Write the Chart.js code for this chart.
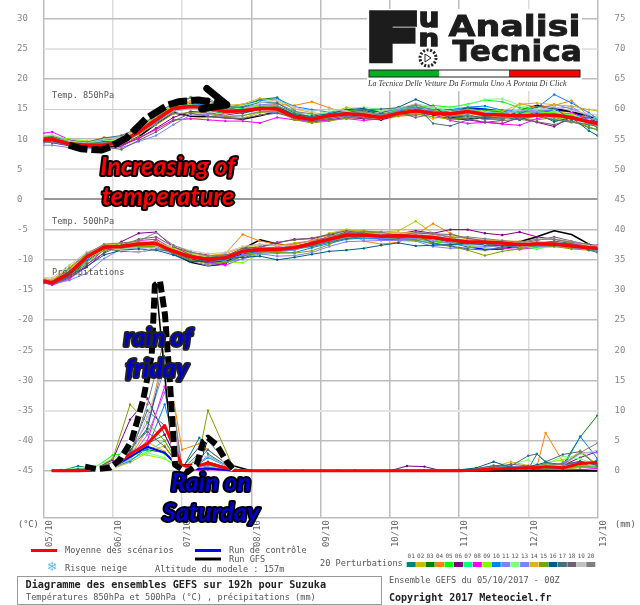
<!DOCTYPE html>
<html><head><meta charset="utf-8">
<style>html,body{margin:0;padding:0;background:#fff}#w{position:relative;width:640px;height:605px}</style>
<script src="https://cdn.jsdelivr.net/npm/chart.js@4"></script>
</head><body><div id="w"><canvas id="c" width="640" height="605"></canvas></div>
<script>
const dateLabels=['05/10','06/10','07/10','08/10','09/10','10/10','11/10','12/10','13/10'];
const hours=[0,3,9,15,21,27,33,39,45,51,57,63,69,75,81,87,93,99,105,111,117,123,129,135,141,147,153,159,165,171,177,183,189,192];
const precipHours=[3,6,12,18,24,30,36,42,48,54,57,66,72,78,84,90,96,102,108,114,120,126,132,138,144,150,156,162,168,171,174,180,186,192];
const gfsPrecipHours=[3,6,12,18,24,30,36,39,45,54,57,66,72,78,84,90,96,102,108,114,120,126,132,138,144,150,156,162,168,171,174,180,186,192];
const memberColors=['#008080','#c0c000','#008000','#ff8000','#00ff00','#800080','#00ff80','#ff00ff','#80ff00','#0080ff','#8080ff','#80ff80','#8080ff','#e0b020','#80a000','#005f80','#406f80','#705f70','#c0c0c0','#808080'];
const mean850=[10,10,9.2,9,9,9.6,11.2,13.2,15.1,15.4,15.2,14.6,14.7,15.1,15,13.7,13.3,13.9,14.2,14,13.6,14.3,14.7,14.3,14.2,14.6,14.1,14,13.9,14,14,13.6,12.9,12.6];
const control850=[9.9,10,9.3,9,9,9.5,11.4,13.6,15.3,15.7,15,14.7,14.8,15.3,15.5,14,13.4,14,14.5,14.5,14,14.7,15,14.8,14.4,15.2,15,14.6,14.4,14.5,14.8,14.6,13.3,12.8];
const gfs850=[9.8,9.7,9,8.8,8.6,8.9,10.4,12.5,14.4,13.8,13.7,13.6,13.3,13.9,14.6,14,13.2,13.8,14.4,14.7,14.1,14.5,14.8,14.6,13.6,13.4,13.5,13.2,14.8,15.6,15.1,14.6,13.8,13.2];
const members850=[
[10.2,10.3,9.4,9,9.2,9.8,11.5,13.6,15.3,15.5,14.8,14.2,14.5,15.2,15.4,14.1,13.2,13.6,14.6,14.7,13.9,14.7,15.3,14.6,13.7,14.4,15,14.4,13.2,14.7,15.2,13.1,11.9,11.6],
[9.7,9.9,9,8.8,8.9,9.2,10.3,11.6,13.1,13.4,13.6,13.7,13.5,14.4,14.6,13.5,12.9,13.6,14,14.2,14.3,14.9,15.8,15,13.9,13.7,13.6,13.3,14,13.9,14.6,14.2,13.5,13.1],
[10.1,9.9,9.3,9.2,9.1,9.4,11,12.9,15.2,15.9,15.1,14.9,15.4,16.6,16.9,14.8,13,13.8,14.7,15,14.2,14.4,14.9,14.4,14.7,15.1,14.8,14.3,13.4,13.8,13.2,12.8,12.4,12.2],
[9.8,10.1,9.5,9.4,10.3,10.2,11.4,13.4,15.4,16.2,15.5,15,14.9,15.5,15.8,15.6,16.2,15.2,14.3,13.6,13.2,13.8,14,15.5,13.9,14.3,13.8,13.5,15.9,15.3,15.6,16.4,13.8,12],
[10.3,10.5,9.6,9.3,9.8,9.9,11.8,14,15.6,15.3,14.9,14.3,14.6,15.4,15.5,14.4,13.6,14.2,14.8,15,14.6,14.9,15.2,15.6,15.3,15.8,16.5,16.2,15.2,15,13.6,13.4,13,12.9],
[9.6,9.4,8.9,8.7,8.8,9,10.1,11.8,13.6,14.6,14.4,14,14.4,15,14.9,13.4,12.9,13.2,13.6,13.4,13.2,14,14.5,14,13.4,13.2,12.8,12.6,13.6,12.8,12.1,13.7,13.1,12.9],
[10,10.2,9.7,9.6,9.3,9.7,11.3,13.3,15,15.2,15.3,14.8,15.1,15.5,15.6,14.2,13.7,14.4,14.5,14.6,14.1,14.6,14.8,14.5,14.9,14.8,14.3,14.5,14.4,14.5,14.4,13.9,13.4,13.2],
[11,11.2,9.9,9.1,9.2,8.9,10.2,11.6,13.2,13.4,13.2,13,13,12.7,13.6,13.2,12.9,13.2,13.4,13.1,13.4,14.2,14,14.3,13.1,12.6,12.8,12.5,12.3,13.4,13.9,14.4,13.2,12.7],
[10.4,10.6,10,9.7,9.5,10,11.7,13.9,15.8,15.6,15,14.4,14.8,15.6,15.2,13.9,13.4,14,14.6,14.4,13.8,14.5,15,14.8,14.3,14.9,14.6,14.8,14.2,14.6,14.3,14.1,12.6,12.2],
[9.5,9.6,9.2,9.5,9.9,10,11.1,12.8,14.9,15.6,15.9,15.3,15.7,16.4,16.7,15.4,14.9,14.5,14.9,15,14.4,15.1,15.4,15,14.9,15.3,15.5,14.8,14.6,15.2,17.4,16,14.4,13.4],
[9,9,8.6,8.4,8.5,8.6,9.6,10.6,12.4,14,14.1,13.7,13.9,14.6,14.4,13.5,13,13.4,13.8,13.7,13.4,14.1,14.6,14.5,13.7,14.1,13.4,13.2,14.9,14.7,15.8,15,13.9,13.6],
[10.2,10.1,9.4,9.2,9.7,10.1,12,14.3,15.9,15.7,15.4,15.2,15.6,16.2,16.1,14.5,14,14.6,15.1,15.3,14.9,15.2,15.5,15.1,15.2,15.7,16.6,16.7,15.6,15,14.8,13.5,13.2,13.6],
[9.9,10.3,9.1,8.9,9,9.3,10.8,12.6,14.6,15.1,15.6,15.2,15.3,15.7,15.9,14.7,13.5,14.3,14.4,14.3,13.9,14.8,15.1,14.6,14.5,14.9,14.4,14.2,14.7,14.4,15,15.4,13.6,13.1],
[10.1,9.8,9.5,9.6,10.1,10.4,11.6,13.7,15.5,16.4,16.1,15.6,15.8,16.8,16.3,15,14.4,14.1,15.3,14.5,13.5,14,14.3,13.4,14,14.3,13.9,14.6,15.8,16,15.7,15.5,14.9,14.7],
[10,10,9.6,9,8.8,9.2,10.9,12.4,14.2,14.4,14.3,13.8,13.9,14.5,14.7,13.2,12.7,13,13.5,13.6,13.5,13.9,14.2,13.7,13.3,13.5,14,14.3,13.5,13.2,13.6,12.9,12.1,11.5],
[9.8,9.7,9.3,9.1,9.6,9.5,11.1,13,14.8,15.4,15.7,14.7,14.3,14.9,15.3,14,13.8,14.2,14.9,15.1,14.4,15.3,16.6,15.4,13.6,13.9,13.5,13.7,13.2,14.2,12.9,13.6,11.4,10.6],
[10.3,10.4,9.8,9.5,10.2,10.6,11.9,14.1,16,16.9,16.4,15.4,15.3,16.1,16,14.3,13.6,14.1,14.4,14.9,15,15.2,15.6,12.6,12.2,13.2,13.8,13.4,14.2,15.4,15.2,13.2,13.7,12.4],
[9.7,10,9.1,8.8,8.7,8.3,9.8,11.2,13,14.3,13.8,13.5,13.4,14,14.3,13.6,13,13.4,13.9,13.5,13.7,14.4,13.6,14.2,13.8,13.4,12.8,13.1,13.3,12.9,12.4,13.3,12.7,11.9],
[10.5,10.7,9.7,9.4,10,10.3,11.6,13.1,14.7,15,14.5,14.1,14.6,16,16.5,15.3,14.6,15,14.7,13.8,14.6,15.1,15.9,15.3,14.6,14.8,14.3,14.1,14.8,14.9,15.4,14.7,14.2,14],
[9.4,9.5,9,9.3,9.4,9.7,11.3,12.7,14.4,17,16.8,15.1,14.8,15.3,15.4,14.6,14.2,13.7,14.1,14.6,14,14.3,15.7,14.8,13.8,14,13.2,13.6,13.5,13.8,13.3,12.9,12.5,12.3]];
const mean500=[-13.5,-13.8,-12.2,-9.5,-7.9,-7.8,-7.4,-7.3,-8.6,-9.5,-9.9,-9.7,-8.6,-8.3,-8.3,-8,-7.3,-6.6,-5.9,-5.9,-6.1,-6,-6.1,-6.3,-6.7,-7,-7.1,-7.2,-7.5,-7.4,-7.4,-7.7,-8,-8.1];
const control500=[-13.5,-13.8,-12.3,-9.8,-8,-7.7,-7.5,-7.4,-8.9,-10,-10.4,-10.2,-9,-8.5,-8.4,-8.2,-7.6,-6.8,-6,-5.9,-6.3,-6.2,-6.4,-6.6,-7.1,-7.8,-8.3,-8.2,-7.6,-7.2,-7.4,-7.3,-7.6,-7.8];
const gfs500=[-13.6,-13.9,-12.5,-9.7,-8.1,-7.8,-7.5,-6.9,-9,-10.4,-11,-10.7,-8.2,-6.7,-7.4,-7.8,-7.6,-6.9,-6,-6,-6.2,-6.1,-6.3,-6.2,-6.9,-7.2,-7.4,-7.5,-7,-6.2,-5.2,-5.8,-7.4,-8.2];
const members500=[
[-13.4,-13.9,-12.4,-9.8,-8,-7.6,-7.1,-7.1,-8.7,-9.9,-10.4,-10,-8.8,-8.4,-8.1,-7.7,-7.4,-6.9,-6.2,-5.7,-6.3,-6.1,-6,-6.4,-7,-7.2,-7.4,-7.3,-7.6,-7.2,-7.1,-7.8,-7.9,-8],
[-13.1,-13.3,-11.2,-8.9,-7.6,-7.4,-7.3,-7.7,-8.3,-9.1,-9.6,-9.4,-8.4,-7.6,-7.7,-7.2,-6.9,-5.6,-5,-5.6,-5.4,-5.2,-3.6,-5.6,-7,-7.5,-7.6,-7.1,-7.4,-7.8,-7.3,-7.5,-8.2,-8.3],
[-13.6,-14,-12.8,-10.2,-8.2,-7.9,-7.6,-7.2,-8.4,-9.8,-10.5,-10.6,-9.4,-8.7,-8.4,-8.2,-7.5,-6.4,-5.3,-5.2,-5.6,-6.2,-6.3,-6.4,-6.8,-6.9,-7.2,-7.6,-8.1,-7.7,-7.6,-7.4,-7.6,-7.9],
[-13.4,-13.5,-11.8,-9.3,-7.7,-7.7,-7.5,-7.4,-8.5,-9.3,-9.4,-9,-5.8,-6.9,-7.4,-7.9,-7.1,-6.1,-5.3,-6.9,-7.4,-7.1,-5.8,-4,-5.6,-6.6,-6.9,-7,-7.3,-7.5,-7.7,-7.9,-8,-8.2],
[-13.5,-13.7,-12.3,-9.6,-8.1,-8.2,-7.6,-7.5,-8.9,-9.7,-9.9,-9.5,-8.9,-8.6,-8.7,-8.3,-7.8,-7,-6.4,-6.5,-6.6,-6.4,-6.5,-7,-7.3,-7.6,-7.4,-7.7,-7.9,-8.2,-7.6,-7.9,-7.7,-7.8],
[-13.7,-14.1,-13,-11.2,-8.8,-7,-5.6,-5.4,-7.9,-8.8,-9.2,-9.9,-8.2,-7.9,-7.2,-6.6,-6.5,-5.9,-5.5,-5.6,-5.8,-5.7,-5.2,-5.6,-5,-5,-5.6,-5.9,-5.4,-6.2,-6.6,-7.1,-7.5,-7.6],
[-13.3,-13.6,-11.9,-9.4,-7.8,-7.8,-7.3,-7.4,-8.8,-9.4,-9.7,-9.6,-8.5,-8.2,-8.5,-8.1,-7.2,-6.7,-6,-6,-6.2,-5.9,-6.2,-6.1,-6.5,-6.9,-7,-7.4,-7.7,-7.2,-7.5,-7.6,-8.1,-8],
[-13.8,-14.2,-13.2,-10.9,-8.3,-7.6,-6.8,-6.6,-8.2,-9.5,-10.4,-10.9,-9.8,-8.6,-7.8,-7.4,-6.8,-6.3,-6.1,-5.8,-6.7,-6.5,-6.6,-5.8,-6.2,-7.3,-7.5,-8.1,-8.3,-7.9,-7.8,-7.3,-7.7,-7.9],
[-13.2,-13.4,-11.5,-9.2,-7.7,-7.5,-7.2,-7,-8.1,-9,-9.8,-10.3,-10.5,-9.1,-8.9,-8.3,-7.2,-6.4,-5.7,-6.2,-6.3,-6.2,-6.4,-6.6,-7.2,-7.7,-8,-7.5,-7.2,-7.6,-7.2,-7.8,-8.3,-8.4],
[-13.6,-13.9,-12.6,-10,-7.7,-7.9,-7.7,-7.6,-8.5,-9.6,-10.3,-10.1,-9.2,-8.5,-8.9,-8.8,-8,-7.3,-6.6,-6.4,-6.5,-6.7,-6.7,-7.4,-7.6,-7.3,-7,-7.6,-8,-7.3,-7.2,-7.4,-8.3,-8.6],
[-13.9,-14,-13.4,-12.2,-9.8,-8.2,-8,-8,-9,-10.2,-11,-10.4,-9.9,-9,-9.4,-9.3,-8.8,-7.8,-7,-6.9,-6.8,-6.8,-6.9,-7.8,-8.1,-8,-7.8,-7.7,-7.7,-7,-7.3,-8,-8.2,-8.4],
[-13.3,-13.6,-12.1,-9.7,-8.4,-8.3,-7.8,-7.6,-8.6,-9.2,-9.6,-9.3,-8.3,-8.1,-8.2,-8.1,-7.4,-6.2,-5.2,-5.5,-5.9,-5.8,-6,-6.2,-6.4,-6.8,-6.6,-7,-7.8,-8.1,-7.9,-7.6,-7.8,-7.7],
[-13.5,-13.8,-12.4,-9.6,-8,-7.9,-7.5,-7.3,-8.7,-9.7,-10.1,-10,-9.2,-8.8,-8.6,-8.4,-7.6,-6.9,-6.3,-6.3,-6.4,-6.3,-6.5,-6.9,-7.2,-7.4,-7.3,-7.5,-7.4,-7.8,-7.7,-8.1,-8.1,-8.3],
[-13.2,-13.3,-11.6,-9.1,-7.5,-7.3,-7,-7.1,-8,-8.9,-9.3,-9,-8,-7.4,-7.7,-7.5,-6.8,-5.8,-5,-5.2,-5.4,-5.5,-5.5,-5.8,-6.1,-6.5,-6.7,-6.9,-6.9,-7.1,-7,-7.2,-7.6,-7.7],
[-13.7,-13.9,-12.9,-10.4,-8.4,-8,-7.8,-7.8,-8.9,-10,-10.7,-10.4,-9.4,-8.9,-8.8,-8.9,-8.5,-7.5,-5.8,-5.4,-5.5,-6.6,-6.8,-7.2,-7.8,-8.4,-9.3,-8.6,-8.2,-7.6,-7.8,-8.2,-8.4,-8.3],
[-13.6,-14,-12.7,-11.1,-9.2,-8.4,-8.2,-8.4,-9.2,-10.3,-10.2,-9.8,-9.6,-9.4,-10,-9.6,-9.1,-8.6,-8.4,-8.1,-7.6,-7.2,-7.7,-7.6,-7.5,-7.2,-7.5,-7.7,-7.6,-7.4,-7.6,-7.7,-7.9,-8.2],
[-13.4,-13.7,-12,-9.5,-8.1,-8.6,-8.7,-8.3,-8.6,-9.4,-9.7,-9.2,-8.7,-8.5,-8.3,-8,-7.8,-7.1,-6.5,-6.1,-6.1,-6.4,-5.9,-7.2,-7.7,-8.2,-8.4,-8,-7.5,-7.3,-6.9,-7.3,-8.4,-8.8],
[-13.8,-14.1,-12.8,-10.7,-8.9,-7.6,-6.6,-6.2,-7.8,-9.2,-9.8,-9.4,-8.1,-7.9,-7.1,-6.7,-6.4,-5.8,-5.2,-5.6,-5.9,-5.8,-5.6,-5.7,-5.8,-6.4,-6.9,-7.1,-7.2,-6.8,-6.2,-6.9,-7.5,-7.8],
[-13,-13,-10.9,-8.7,-7.8,-8.4,-8.8,-7.9,-7.6,-8.5,-9,-8.8,-7.8,-7.4,-7.6,-7.7,-7.2,-6.3,-5.6,-5.8,-5.7,-5.6,-5.7,-6,-6.6,-7,-7.4,-7,-7.2,-6.6,-6.5,-7,-7.6,-7.8],
[-13.5,-13.6,-11.4,-9,-7.4,-7.2,-6.9,-5.5,-7.6,-8.7,-9.4,-9.2,-8.6,-7.9,-8,-7.8,-7.1,-6.1,-5.6,-5.3,-5.4,-6,-5.5,-5.6,-6.3,-6.2,-6.5,-6.8,-7.1,-6.6,-6.6,-7.1,-7.4,-8.6]];
const meanPrecip=[0,0,0,.1,.7,2.8,4.5,7.5,.8,.9,1.3,.1,0,0,0,0,0,0,0,0,0,0,0,0,0,.1,.3,.4,.5,.5,.7,.5,1.2,1.4];
const controlPrecip=[0,0,0,.1,.6,2.3,4,3,.1,.3,.4,0,0,0,0,0,0,0,0,0,0,0,0,0,0,0,0,0,0,0,0,0,0,0];
const gfsPrecip=[0,0,0,.2,.9,5,15,31,1,1,5.5,.8,0,0,0,0,0,0,0,0,0,0,0,0,0,0,0,0,0,0,0,0,0,0];
const membersPrecip=[
[0,0,.8,.3,1,2,4.5,6,.2,5.5,2.8,.1,0,0,0,0,0,0,0,0,0,0,.1,.1,.2,.4,.8,.6,.3,2.8,1.5,.4,.7,1.8],
[0,0,0,.1,.4,1.4,3,4.2,.2,.6,.3,0,0,0,0,0,0,0,0,0,0,0,0,0,0,.1,.1,.2,.1,.2,.2,.3,.5,.9],
[0,.1,.2,.5,1.2,2.6,3.5,3,.1,.9,1.5,.2,0,0,0,0,0,0,0,0,0,0,0,0,.1,.2,.3,.2,.5,.6,.8,1,5.6,9.2],
[0,0,0,.2,.8,2.2,7,20.6,3.5,4.5,3.5,.3,0,0,0,0,0,0,0,0,0,0,0,0,.1,.2,.2,.3,.4,.7,6.3,1.5,1,.7],
[0,0,.1,.6,2.6,3,4,2.8,.1,.3,.5,.1,0,0,0,0,0,0,0,0,0,0,0,0,0,.1,.2,.4,.2,.3,.9,1.3,.6,.5],
[0,0,0,.4,1.8,8.5,12,6,.2,.4,.6,.1,0,0,0,0,0,0,0,0,0,.8,.7,0,0,.1,.3,.5,.3,.4,.8,.9,2.2,3.2],
[0,0,0,.2,.6,1.8,3.2,5,.3,.2,.4,0,0,0,0,0,0,0,0,0,0,0,0,0,0,.2,.3,.2,.1,.5,.3,.4,.8,.7],
[0,0,0,.1,.7,2.4,5,14,.4,.1,.2,0,0,0,0,0,0,0,0,0,0,0,0,0,.1,.1,.2,.1,.3,.2,.4,.3,.2,.4],
[0,0,.1,.3,.9,2.8,2.6,2,.1,.5,.9,.1,0,0,0,0,0,0,0,0,0,0,0,0,.1,.3,.4,.2,.7,.9,1.4,1.8,2.9,1.2],
[0,0,0,.2,.6,1.6,3.8,11,.1,1.2,2.2,.2,0,0,0,0,0,0,0,0,0,0,0,0,.1,.2,.2,.3,.1,.4,.3,.5,5.7,2],
[0,0,0,.3,1,3.2,8,17,.2,1.4,2.5,.2,0,0,0,0,0,0,0,0,0,0,0,.1,.1,.1,.4,.7,.5,.4,.5,1.2,3,3],
[.1,.2,.4,.8,2,3.6,3,2.2,0,.4,.8,.1,0,0,0,0,0,0,0,0,0,0,0,0,.1,.2,.5,1.1,1.8,.9,1.1,2.4,2,1],
[0,0,0,.2,.7,2,6,13,.2,.9,.6,.1,0,0,0,0,0,0,0,0,0,0,0,0,0,.2,.3,.4,.6,.5,.7,.9,1.5,1.2],
[0,0,0,.4,1.1,2.5,4.8,3.2,.1,.3,.5,0,0,0,0,0,0,0,0,0,0,0,0,0,.1,.2,.7,1.5,.9,.7,1,.8,3.4,.9],
[0,0,0,.3,2,11,8,5,.2,3,10,.3,0,0,0,0,0,0,0,0,0,0,0,0,.1,.1,.2,.3,.2,.6,.4,.6,.7,.6],
[0,0,0,.1,.9,3.4,7,19,.5,4,5,.2,0,0,0,0,0,0,0,0,0,0,0,0,.1,.5,1.5,.6,.7,1,1.4,1,1.6,.9],
[0,.1,.3,.2,1.3,2.9,10,7.5,.3,2,3.5,.2,0,0,0,0,0,0,0,0,0,.1,.1,0,.1,.3,.9,.8,2.5,2.8,1.5,2.7,3.2,.8],
[0,0,0,.5,1.4,4,6.5,4,.1,.8,1,.1,0,0,0,0,0,0,0,0,0,0,0,0,0,.2,.6,1.1,.8,.5,.7,1.2,1.4,1.1],
[0,0,0,.2,.5,1.9,9,18,.2,2.5,2.4,.1,0,0,0,0,0,0,0,0,0,0,0,0,0,.1,.3,.2,.4,.6,.8,.9,2.8,3.4],
[0,0,0,.3,.8,2.3,11,22,.3,.7,1.1,.1,0,0,0,0,0,0,0,0,0,0,0,0,.1,.2,.4,.5,.6,.8,1.2,1,3,4.6]];
// hand-drawn overlays as [hour, value]
const sketch850=[[8.8,9],[13.2,8.4],[20.2,8.2],[23,8.7],[28.8,10.2],[35.8,13.5],[43.3,15.7],[46.7,16.2],[53.7,16.5],[63.5,15.7]];
const arrowBarbA=[[56.6,18.4],[63.5,15.7]];
const arrowBarbB=[[54.8,15],[63.5,15.7]];
const sketchPrecip=[[14.4,.7],[18.4,.3],[23,.5],[26.5,1.8],[30.6,5.1],[34.6,11.9],[37.5,19.2],[38.6,30.8],[40.4,31.4],[42.1,25.9],[43.8,14.8],[44.4,10.1],[45.6,1],[49.6,-.3],[53.1,1],[55.4,4.9],[57,5.5],[60,4.3],[63.5,1.5],[65.8,.2]];
const strongY=[-45,-40,-30,-25,-20,-10,-5,10,20,30];
const strongX=[0,72,96,120,144,192];
const axisMin=-52.82,axisMax=33.08,mmShift=45;

const pts=(xs,ys)=>xs.map((x,i)=>({x,y:ys[i]}));
const pairs=a=>a.map(p=>({x:p[0],y:p[1]}));
const thin=(d,c,ax)=>({data:d,borderColor:c,backgroundColor:c,borderWidth:1,pointRadius:1.2,pointBorderWidth:0,yAxisID:ax,tension:0});
const thick=(d,c,w,ax,extra)=>Object.assign({data:d,borderColor:c,borderWidth:w,pointRadius:0,yAxisID:ax,tension:0},extra||{});
const datasets=[];
datasets.push(thick(pts(hours,control850),'#0000ff',1.6,'y'),thick(pts(hours,control500),'#0000ff',1.6,'y'));
datasets.push(thick(pts(hours,gfs850),'#000',1.6,'y'),thick(pts(hours,gfs500),'#000',1.6,'y'));
members850.forEach((m,i)=>datasets.push(thin(pts(hours,m),memberColors[i],'y')));
members500.forEach((m,i)=>datasets.push(thin(pts(hours,m),memberColors[i],'y')));
membersPrecip.forEach((m,i)=>datasets.push(thin(pts(precipHours,m),memberColors[i],'yr')));
datasets.push(thick(pts(precipHours,controlPrecip),'#0000ff',2,'yr'));
datasets.push(thick(pts(gfsPrecipHours,gfsPrecip),'#000',1.5,'yr'));
datasets.push(thick(pts(hours,mean850),'#ff0000',3.5,'y'),thick(pts(hours,mean500),'#ff0000',3.5,'y'),thick(pts(precipHours,meanPrecip),'#ff0000',3,'yr'));
datasets.push(thick(pairs(sketchPrecip),'#fff',6,'yr'));
datasets.push(thick(pairs(sketchPrecip),'#000',6,'yr',{borderDash:[11,4]}));
datasets.push(thick(pairs(sketch850),'#000',7,'y',{borderDash:[19,4]}));
datasets.push(thick(pairs(arrowBarbA),'#000',7,'y',{borderCapStyle:'round'}));
datasets.push(thick(pairs(arrowBarbB),'#000',7,'y',{borderCapStyle:'round'}));
datasets.reverse(); // Chart.js paints the first dataset last

const MONO='"DejaVu Sans Mono","Liberation Mono",monospace';
function label(ctx,t,x,y,size,col,bold){ctx.font=(bold?'bold ':'')+size+'px '+MONO;ctx.fillStyle=col;ctx.textAlign='left';ctx.textBaseline='middle';ctx.fillText(t,x,y);}
function big(ctx,t,cx,y,fill,stroke,sx){
  ctx.save();ctx.translate(cx,y);ctx.scale(sx,1);ctx.font='italic bold 24px Lato,"Open Sans",sans-serif';ctx.textAlign='center';ctx.textBaseline='middle';
  ctx.lineJoin='round';ctx.strokeStyle=stroke;ctx.lineWidth=4;ctx.strokeText(t,0,0);ctx.fillStyle=fill;ctx.fillText(t,0,0);ctx.restore();
}
function heavy(c,s,x0,y0,x1,y1,lw){
  c.save();c.font='bold 100px "DejaVu Sans"';c.textBaseline='alphabetic';c.textAlign='left';
  const m=c.measureText(s),w=m.actualBoundingBoxRight+m.actualBoundingBoxLeft+lw,h=m.actualBoundingBoxAscent+m.actualBoundingBoxDescent+lw;
  c.translate(x0,y0);c.scale((x1-x0)/w,(y1-y0)/h);
  c.lineWidth=lw;c.lineJoin='miter';c.strokeStyle=c.fillStyle;
  c.strokeText(s,m.actualBoundingBoxLeft+lw/2,m.actualBoundingBoxAscent+lw/2);
  c.fillText(s,m.actualBoundingBoxLeft+lw/2,m.actualBoundingBoxAscent+lw/2);c.restore();
}
const deco={id:'deco',
 afterLayout(ch){ // plot reaches the very top of the canvas
  ['y','yr'].forEach(id=>{const s=ch.scales[id];s.top=0;s.height=s.bottom;s.configure();});
  ch.chartArea.top=0;ch.chartArea.height=ch.chartArea.bottom;
 },
 afterDraw(ch){
  const c=ch.ctx;c.save();
  label(c,'Temp. 850hPa',52,96,8.6,'#555');
  label(c,'Temp. 500hPa',52,222,8.6,'#555');
  label(c,'Précipitations',52,273,8.6,'#555');
  label(c,'(°C)',18,524.5,8.6,'#555');
  label(c,'(mm)',615,525,8.6,'#555');
  big(c,'Increasing of',168,167,'#ff0000','#000',1.05);
  big(c,'temperature',168,197,'#ff0000','#000',1.05);
  big(c,'rain of',158,338,'#0000cc','#222',1.05);
  big(c,'friday',157,369,'#0000cc','#222',1.05);
  big(c,'Rain on',211,483,'#0000cc','#000',1.05);
  big(c,'Saturday',211,513,'#0000cc','#000',1.05);
  // logo
  c.fillStyle='#fff';c.fillRect(367,9,215,82);
  c.fillStyle='#1c1c1c';
  heavy(c,'F',369,10,417,63,12);heavy(c,'u',420,11,438,28,6);heavy(c,'n',420,33,438,47,6);
  heavy(c,'Analisi',448,15,578,37,3);heavy(c,'Tecnica',452,40,580,62,3);
  c.strokeStyle='#222';c.lineWidth=3;c.setLineDash([2,1.6]);c.beginPath();c.arc(428,58,8,0,Math.PI*2);c.stroke();c.setLineDash([]);
  c.lineWidth=1;c.beginPath();c.moveTo(425,54);c.lineTo(425,62);c.lineTo(431,58);c.closePath();c.stroke();
  c.fillStyle='#00b020';c.fillRect(369,70,70,7);c.fillStyle='#ffffff';c.fillRect(439,70,70,7);c.fillStyle='#ff0000';c.fillRect(509,70,71,7);
  c.strokeStyle='#222';c.lineWidth=1;c.strokeRect(369,70,211,7);
  c.font='italic 8px "Liberation Serif",serif';c.fillStyle='#333';c.textAlign='left';c.textBaseline='middle';c.fillText('La Tecnica Delle Vetture Da Formula Uno A Portata Di Click',368,84);
  // legend
  const ln=(x0,x1,y,col)=>{c.strokeStyle=col;c.lineWidth=3;c.beginPath();c.moveTo(x0,y);c.lineTo(x1,y);c.stroke();};
  ln(31,57,550.5,'#ff0000');ln(195,221,550.5,'#0000ff');ln(195,221,559,'#000');
  label(c,'Moyenne des scénarios',65,551,8.6,'#555');
  label(c,'Run de contrôle',229,551,8.6,'#555');
  label(c,'Run GFS',229,559.5,8.6,'#555');
  c.font='13px "DejaVu Sans"';c.fillStyle='#66bbee';c.textAlign='center';c.textBaseline='middle';c.fillText('❄',52,568);
  label(c,'Risque neige',65,569,8.6,'#555');
  label(c,'Altitude du modele : 157m',155,570,8.6,'#555');
  label(c,'20 Perturbations',320,563.5,8.6,'#555');
  memberColors.forEach((col,i)=>{const x=406.7+i*9.45;c.fillStyle=col;c.fillRect(x,562,9,5);
    c.font='6px '+MONO;c.fillStyle='#555';c.textAlign='center';c.textBaseline='middle';c.fillText(String(i+1).padStart(2,'0'),x+4.5,556.5);});
  c.strokeStyle='#999';c.lineWidth=1;c.strokeRect(17.5,576.5,364,28);
  label(c,'Diagramme des ensembles GEFS sur 192h pour Suzuka',25.5,585,10.2,'#222',true);
  label(c,'Températures 850hPa et 500hPa (°C) , précipitations (mm)',26,598,8.6,'#555');
  label(c,'Ensemble GEFS du 05/10/2017 - 00Z',389,581,8.6,'#555');
  label(c,'Copyright 2017 Meteociel.fr',389,598,10,'#222',true);
  c.restore();
}};
const tickFont={family:MONO,size:9};
const noPad=s=>{s.paddingTop=0;s.paddingBottom=0;s.paddingLeft=0;s.paddingRight=0;};
new Chart(document.getElementById('c'),{type:'line',data:{datasets},plugins:[deco],options:{
  responsive:false,animation:false,
  layout:{padding:{left:17,right:0,top:0,bottom:0}},
  plugins:{legend:{display:false},tooltip:{enabled:false},title:{display:false}},
  elements:{line:{borderJoinStyle:'round'}},
  scales:{
    x:{type:'linear',min:0,max:192,offset:false,
      ticks:{stepSize:24,maxRotation:90,minRotation:90,autoSkip:false,labelOffset:6,padding:2,color:'#666',font:tickFont,callback:v=>dateLabels[v/24]},
      grid:{drawTicks:false,lineWidth:1.5,color:c=>strongX.includes(c.tick&&c.tick.value)?'#bdbdbd':'#dcdcdc'},
      border:{display:true,color:'#bdbdbd',width:1.5},
      afterFit(s){s.height=87;noPad(s);}},
    y:{type:'linear',position:'left',min:axisMin,max:axisMax,
      ticks:{stepSize:5,includeBounds:false,autoSkip:false,crossAlign:'far',color:'#888',font:tickFont,callback:v=>v<-45?'':String(v)},
      grid:{drawTicks:false,color:c=>{const v=c.tick&&c.tick.value;return v<-45?'rgba(0,0,0,0)':v===0?'#9a9a9a':v===15?'#cccccc':strongY.includes(v)?'#bdbdbd':'#e4e4e4';},
        lineWidth:c=>{const v=c.tick&&c.tick.value;return v===15?1:v===0?2:strongY.includes(v)?1.5:2;}},
      border:{display:false},
      afterFit(s){s.width=26.5;noPad(s);}},
    yr:{type:'linear',position:'right',min:axisMin+mmShift,max:axisMax+mmShift,
      ticks:{stepSize:5,includeBounds:false,autoSkip:false,padding:17,color:'#888',font:tickFont,callback:v=>v<0?'':String(v)},
      grid:{display:false,drawTicks:false},border:{display:false},
      afterFit(s){s.width=42.5;noPad(s);}}
  }}});
</script></body></html>
